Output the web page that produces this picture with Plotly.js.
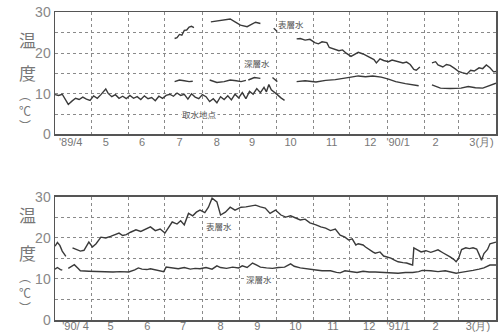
<!DOCTYPE html>
<html>
<head>
<meta charset="utf-8">
<script src="https://cdn.plot.ly/plotly-3.0.1.min.js"></script>
<style>html,body{margin:0;padding:0;background:#fff;}#chart{width:498px;height:334px;}</style>
</head>
<body>
<div id="chart"></div>
<script>
// ---- Top panel: 1989/4 - 1990/3 (day 0 = April 1) ----
const topTicks = [13, 42, 72, 103, 134, 163, 195, 229, 261, 284, 315, 353];
const topTickText = ["'89/4", "5", "6", "7", "8", "9", "10", "11", "12", "'90/1", "2", "3(月)"];
const botTicks = [17, 46, 76.5, 106, 137, 167.5, 199, 230, 260, 284, 315, 350];
const botTickText = ["'90/ 4", "5", "6", "7", "8", "9", "10", "11", "12", "'91/1", "2", "3(月)"];
const monthBounds = [30, 61, 91, 122, 153, 183, 214, 244, 275, 306, 334];

const intakeDay = [0,3,6,9,11,14,17,20,23,26,29,32,35,38,40,42,44,47,50,53,56,59,62,65,68,71,74,77,80,83,86,89,92,95,98,101,104,107,110,113,116,119,122,125,128,131,134,137,140,143,146,149,152,155,158,161,164,167,170,173,175,177,179,181,184,187,190];
const intakeVal = [9.8,9.6,9.9,8.5,7.4,8.2,8.9,8.6,9.2,8.7,8.4,9.5,8.9,9.8,10.5,11.2,10.1,9.3,9.8,8.9,9.4,8.8,9.6,8.9,9.3,8.6,9.5,8.8,9.1,8.3,9.4,8.9,9.6,9.9,9.4,10.2,9.6,9.9,8.7,10.0,9.2,8.8,9.8,9.3,8.1,8.8,7.8,9.3,8.6,9.5,8.5,9.9,9.0,10.3,8.8,10.6,9.9,11.3,10.3,11.6,10.5,12.3,11.0,10.6,9.8,9.0,8.4];

const surf1Day = [99,101,103,105,107,109,111,113,115,null,129,133,139,145,149,153.5,159,162,166,170,null,181,184,null,200,203,207,211,215,218,221,225,227,231,235,238,241,245,248,251,255,258,261,264,266,269,272,276,279,284,288,291,294,297,299,302,null,312,315,317,321,324,327,331,334,337,341,344,347,351,354,357,360,363,365];
const surf1Val = [23.6,23.8,24.6,24.4,25.6,25.7,26.4,26.6,26.3,null,27.7,27.9,28.1,28.4,27.7,26.9,26.5,26.9,27.6,27.3,null,26.1,25.3,null,23.5,23.6,23.2,23.4,22.6,22.3,22.8,22.6,21.4,21.0,20.6,20.8,20.0,19.2,19.6,20.2,19.8,19.3,19.0,18.4,17.6,18.6,18.2,17.9,18.3,18.0,17.6,17.8,17.2,16.0,15.8,16.6,null,17.6,17.9,17.1,16.6,17.2,17.0,16.2,15.5,15.2,14.9,15.8,15.6,16.4,16.2,17.1,16.4,15.4,15.5];

const deep1Day = [99,103,107,111,114,null,128,134,140,145,150,154,158,null,160,165,170,null,180,182,184,null,200,207,216,224,232,240,245,251,257,263,270,276,282,290,296,301,null,312,316,319,327,336,342,348,354,360,365];
const deep1Val = [13.0,13.4,13.2,13.0,13.1,null,13.4,12.8,13.0,13.4,13.2,13.0,13.3,null,13.4,14.0,13.8,null,14.0,13.4,13.0,null,13.0,13.2,12.9,13.3,13.5,13.8,14.1,14.4,14.2,14.4,14.1,13.6,13.0,12.5,12.2,12.0,null,12.2,11.7,11.4,11.3,11.4,11.8,11.5,11.4,12.0,12.6];

// ---- Bottom panel: 1990/4 - 1991/3 ----
const surf2Day = [0,2,4,6,9,null,14.5,18,21,24,28,31,34,38,42,46,49,53,56,59,62.5,67,71,75,79,83,87,91,94,97,101,104,107,110.5,114,117,120,124,127,130,134,137,141,145,149,154,158,162,166,170,174,178,182.5,187,191,195,199,203,207,211,216,220,224,228,232,236,240,243,246,249,251,255,257,260,263,265,269,272,274,278,281,284,288,291,294,296,297,300,303,307,311,314,317,321,324,327,330,332,334,336.5,340,343,346,349,351,353,355,358,360,363,365];
const surf2Val = [18.0,18.9,18.2,16.8,15.5,null,17.6,17.2,16.8,17.0,19.0,17.8,18.6,20.2,20.0,20.4,20.8,21.2,20.6,20.8,21.4,22.0,21.6,22.2,22.7,21.8,22.2,21.2,22.5,23.9,23.4,24.2,23.2,26.0,25.4,26.3,26.8,26.2,27.5,29.7,28.8,25.6,26.3,27.5,26.8,27.5,27.6,27.8,28.0,27.6,27.3,26.0,26.8,25.6,25.1,25.4,24.9,24.4,24.6,23.7,23.2,22.7,22.4,21.8,22.2,20.7,20.2,19.5,19.8,18.3,18.6,18.3,17.8,17.1,16.6,16.3,16.6,15.6,15.4,15.1,14.6,14.2,14.0,13.9,13.6,13.4,17.6,17.0,16.6,16.9,16.5,16.8,17.1,16.4,16.0,15.4,14.8,14.2,15.0,17.2,17.6,17.4,17.6,17.3,16.0,14.6,16.2,17.2,18.6,18.8,19.0];

const deep2Day = [0,2,4.5,6,null,11,14,16,19,21,28,34,41,48,54,61,66,69,72,76,79,83,87,90,92,97,102,107,112,116,120,125,130,134,137,142,147,152,155,159,163.5,167,170,175,180,185,190,195,198,203,210,216,221,228,233,236,240,245,250,255,260,265,271,278,284,290,296,301,304,311,317,323,327,332,336,341,346,351,355,360,365];
const deep2Val = [12.4,12.8,12.3,12.2,null,12.6,13.1,13.5,12.6,12.0,11.9,11.8,11.8,11.7,11.8,11.7,12.2,12.7,12.4,12.3,12.5,12.2,11.9,11.8,12.9,12.7,12.5,12.8,12.4,12.6,12.5,12.8,12.4,13.2,12.8,12.6,12.9,12.7,13.2,12.8,13.9,13.4,12.9,12.7,12.6,12.8,12.9,13.7,13.1,12.7,12.5,12.2,12.0,12.0,11.6,11.5,12.0,11.8,11.6,11.9,11.7,11.7,11.6,11.5,11.4,11.6,11.6,11.8,12.1,12.0,11.8,12.0,11.7,11.4,11.6,11.8,12.1,12.4,12.7,13.4,13.4];

const lineStyle = {color: '#3a3a3a', width: 1.4};
const traces = [
  {x: intakeDay, y: intakeVal, xaxis: 'x', yaxis: 'y', mode: 'lines', line: lineStyle, connectgaps: false},
  {x: surf1Day, y: surf1Val, xaxis: 'x', yaxis: 'y', mode: 'lines', line: lineStyle, connectgaps: false},
  {x: deep1Day, y: deep1Val, xaxis: 'x', yaxis: 'y', mode: 'lines', line: lineStyle, connectgaps: false},
  {x: surf2Day, y: surf2Val, xaxis: 'x2', yaxis: 'y2', mode: 'lines', line: lineStyle, connectgaps: false},
  {x: deep2Day, y: deep2Val, xaxis: 'x2', yaxis: 'y2', mode: 'lines', line: lineStyle, connectgaps: false}
];

const gridCol = '#8a8a8a';
function xAxis(tv, tt, anchor, standoff) {
  return {
    range: [0, 365], anchor: anchor, domain: [0, 1],
    tickmode: 'array', tickvals: tv, ticktext: tt, showgrid: false,
    ticks: '', ticklen: 0, ticklabelstandoff: standoff, zeroline: false,
    showline: true, mirror: true, linecolor: '#555', linewidth: 1.5,
    tickfont: {family: 'Liberation Sans, DejaVu Sans, sans-serif', size: 11, color: '#777'},
    minor: {tickmode: 'array', tickvals: monthBounds, showgrid: true, gridcolor: gridCol, gridwidth: 1, griddash: 'dot', ticks: ''}
  };
}
function yAxis(dom, anchor) {
  return {
    range: [0, 30], domain: dom, anchor: anchor,
    tickmode: 'array', tickvals: [0, 10, 20, 30], ticktext: ['0', '10', '20', '30'],
    showgrid: true, gridcolor: gridCol, gridwidth: 1, griddash: 'dot',
    ticks: '', ticklen: 0, zeroline: false, fixedrange: true,
    showline: true, mirror: true, linecolor: '#555', linewidth: 1.5,
    tickfont: {family: 'Liberation Sans, DejaVu Sans, sans-serif', size: 14, color: '#888'},
    minor: {tickmode: 'array', tickvals: [5, 15, 25], showgrid: true, gridcolor: gridCol, gridwidth: 1, griddash: 'dot', ticks: ''}
  };
}

const cjk = 'Noto Sans CJK JP, sans-serif';
const labelFont = {family: cjk, size: 8.5, color: '#555'};
function lab(text, x, y, xr, yr) {
  return {text: text, x: x, y: y, xref: xr, yref: yr, showarrow: false, font: labelFont, bgcolor: '#fff', borderpad: 0};
}
const titleFont = {family: cjk, size: 17, color: '#777'};
const unitFont = {family: cjk, size: 12, color: '#777'};
function ylab(text, y, yr, font) {
  return {text: text, x: -0.086, y: y, xref: 'paper', yref: yr, showarrow: false, font: font};
}

const annotations = [
  lab('表層水', 195, 27.2, 'x', 'y'),
  lab('深層水', 167, 17.6, 'x', 'y'),
  lab('取水地点', 119.6, 5, 'x', 'y'),
  lab('表層水', 136, 22.9, 'x2', 'y2'),
  lab('深層水', 168.5, 10.1, 'x2', 'y2'),
  ylab('温', 23.4, 'y', titleFont), ylab('度', 15.2, 'y', titleFont),
  ylab('︵<br>℃<br>︶', 6.0, 'y', unitFont),
  ylab('温', 25.8, 'y2', titleFont), ylab('度', 16.5, 'y2', titleFont),
  ylab('︵<br>℃<br>︶', 6.8, 'y2', unitFont)
];

const layout = {
  width: 498, height: 334,
  margin: {l: 55, r: 2, t: 12, b: 14},
  paper_bgcolor: '#fff', plot_bgcolor: '#fff',
  showlegend: false,
  xaxis: xAxis(topTicks, topTickText, 'y', -3),
  yaxis: yAxis([0.6023, 0.9984], 'x'),
  xaxis2: xAxis(botTicks, botTickText, 'y2', -5),
  yaxis2: yAxis([0, 0.3994], 'x2'),
  annotations: annotations
};

Plotly.newPlot('chart', traces, layout, {staticPlot: true, displayModeBar: false});
</script>
</body>
</html>
